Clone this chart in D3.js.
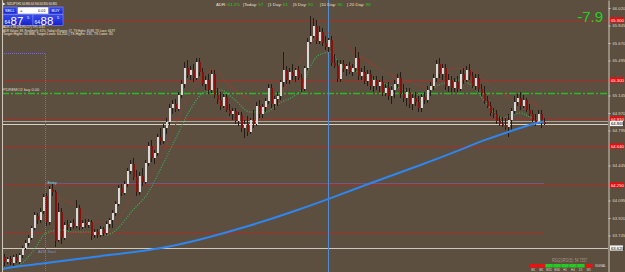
<!DOCTYPE html>
<html>
<head>
<meta charset="utf-8">
<script src="https://cdn.jsdelivr.net/npm/d3@7"></script>
<style>
  html, body { margin: 0; padding: 0; background: #5c4f3f; overflow: hidden; }
  text { font-family: "Liberation Sans", Arial, sans-serif; }
</style>
</head>
<body>
<div id="chart"></div>
<script>
// NZDJPY H1 candles, oldest first
const opens = [
  63.53,63.48,63.51,63.47,63.53,63.48,63.55,63.62,63.67,63.72,
  63.82,63.94,63.90,63.99,64.14,63.88,64.21,64.18,63.70,63.98,
  63.72,63.85,63.83,63.87,63.84,64.02,63.83,63.87,63.85,63.88,
  63.75,63.78,63.75,63.81,63.77,63.86,63.90,63.97,64.06,64.22,
  64.17,64.26,64.39,64.46,64.33,64.18,64.34,64.28,64.47,64.64,
  64.52,64.57,64.73,64.69,64.82,64.88,65.02,65.06,65.01,65.15,
  65.26,65.42,65.35,65.40,65.32,65.48,65.38,65.26,65.30,65.20,
  65.36,65.15,65.10,65.04,65.13,65.00,64.96,64.99,64.89,64.95,
  64.82,64.86,64.78,64.90,64.86,65.04,64.96,65.03,65.09,65.22,
  65.06,65.11,65.14,65.28,65.40,65.30,65.38,65.34,65.40,65.32,
  65.21,65.42,65.68,65.74,65.84,65.69,65.78,65.67,65.63,65.70,
  65.47,65.44,65.31,65.46,65.41,65.44,65.38,65.42,65.52,65.34,
  65.38,65.29,65.36,65.24,65.30,65.24,65.28,65.17,65.22,65.14,
  65.20,65.26,65.32,65.16,65.12,65.18,65.06,65.12,65.08,65.02,
  65.13,65.10,65.20,65.24,65.32,65.46,65.36,65.42,65.24,65.30,
  65.22,65.28,65.21,65.36,65.30,65.40,65.34,65.24,65.32,65.21,
  65.17,65.09,65.04,64.97,64.96,64.89,64.86,64.85,64.83,64.90,
  64.99,65.08,65.12,65.04,65.10,65.00,64.96,64.90,64.87,64.96,
  64.88
];
const highs = [
  63.56,63.53,63.54,63.55,63.56,63.57,63.64,63.70,63.75,63.84,
  63.98,63.97,64.02,64.16,64.17,64.24,64.26,64.20,64.07,64.02,
  63.88,63.90,63.89,63.91,64.10,64.05,63.90,63.91,63.91,63.90,
  63.81,63.81,63.84,63.83,63.89,63.92,64.00,64.09,64.25,64.26,
  64.29,64.42,64.50,64.52,64.40,64.38,64.42,64.50,64.68,64.70,
  64.60,64.76,64.82,64.86,64.92,65.06,65.10,65.11,65.18,65.30,
  65.48,65.50,65.44,65.46,65.52,65.52,65.42,65.34,65.36,65.40,
  65.40,65.22,65.18,65.16,65.16,65.06,65.02,65.02,64.98,64.98,
  64.90,64.94,64.92,65.00,65.08,65.10,65.06,65.12,65.26,65.26,
  65.14,65.18,65.30,65.58,65.44,65.42,65.46,65.42,65.44,65.36,
  65.44,65.72,65.94,65.92,65.90,65.84,65.82,65.74,65.72,65.74,
  65.56,65.50,65.50,65.50,65.46,65.48,65.46,65.63,65.58,65.42,
  65.44,65.40,65.40,65.34,65.34,65.30,65.34,65.26,65.28,65.24,
  65.30,65.36,65.38,65.26,65.22,65.22,65.16,65.18,65.14,65.16,
  65.18,65.24,65.28,65.36,65.50,65.52,65.46,65.46,65.36,65.34,
  65.32,65.34,65.40,65.42,65.44,65.46,65.38,65.36,65.36,65.26,
  65.24,65.14,65.08,65.02,65.00,64.94,64.93,64.92,64.96,65.02,
  65.14,65.16,65.18,65.15,65.12,65.06,65.00,64.96,65.00,65.00,
  64.92
];
const lows = [
  63.44,63.46,63.45,63.44,63.47,63.46,63.52,63.60,63.64,63.70,
  63.80,63.86,63.87,63.96,63.84,63.85,64.14,63.63,63.68,63.66,
  63.70,63.80,63.79,63.81,63.82,63.80,63.81,63.82,63.82,63.70,
  63.72,63.72,63.73,63.74,63.75,63.82,63.82,63.94,64.04,64.14,
  64.15,64.23,64.36,64.30,64.14,64.15,64.24,64.26,64.44,64.48,
  64.46,64.54,64.65,64.66,64.76,64.85,64.96,64.98,64.99,65.12,
  65.22,65.32,65.30,65.28,65.30,65.34,65.24,65.20,65.16,65.17,
  65.12,65.06,65.00,65.02,64.98,64.94,64.90,64.86,64.84,64.78,
  64.72,64.74,64.76,64.82,64.84,64.92,64.92,64.98,65.06,65.02,
  65.00,65.04,65.10,65.23,65.26,65.26,65.30,65.28,65.30,65.18,
  65.19,65.40,65.66,65.72,65.66,65.66,65.64,65.60,65.58,65.44,
  65.42,65.28,65.28,65.38,65.34,65.36,65.34,65.38,65.30,65.30,
  65.26,65.24,65.20,65.18,65.20,65.18,65.14,65.14,65.10,65.06,
  65.12,65.22,65.12,65.08,65.04,65.02,65.00,65.04,64.98,64.98,
  65.06,65.07,65.14,65.20,65.28,65.32,65.30,65.20,65.18,65.18,
  65.18,65.18,65.19,65.26,65.28,65.30,65.22,65.20,65.18,65.14,
  65.06,65.02,64.94,64.92,64.86,64.84,64.83,64.80,64.73,64.80,
  64.96,65.04,65.00,65.02,64.98,64.94,64.88,64.84,64.86,64.82,
  64.85
];
const closes = [
  63.48,63.51,63.48,63.53,63.49,63.55,63.62,63.67,63.72,63.82,
  63.95,63.90,63.98,64.13,63.88,64.21,64.18,63.69,63.98,63.72,
  63.85,63.83,63.87,63.84,64.02,63.83,63.87,63.85,63.88,63.74,
  63.78,63.75,63.81,63.77,63.86,63.90,63.97,64.06,64.22,64.17,
  64.26,64.39,64.46,64.33,64.18,64.34,64.28,64.47,64.64,64.52,
  64.57,64.73,64.69,64.82,64.88,65.02,65.06,65.01,65.15,65.26,
  65.42,65.35,65.40,65.32,65.48,65.38,65.26,65.30,65.20,65.36,
  65.15,65.10,65.04,65.13,65.00,64.96,64.99,64.89,64.95,64.82,
  64.86,64.78,64.90,64.86,65.04,64.96,65.03,65.09,65.22,65.06,
  65.11,65.14,65.28,65.40,65.30,65.38,65.34,65.40,65.32,65.21,
  65.42,65.68,65.74,65.84,65.69,65.78,65.67,65.63,65.70,65.47,
  65.44,65.31,65.46,65.41,65.44,65.38,65.42,65.52,65.34,65.38,
  65.29,65.36,65.24,65.30,65.24,65.28,65.17,65.22,65.14,65.20,
  65.26,65.32,65.16,65.12,65.18,65.06,65.12,65.08,65.02,65.13,
  65.10,65.20,65.24,65.32,65.46,65.36,65.42,65.24,65.30,65.22,
  65.28,65.21,65.36,65.30,65.40,65.34,65.24,65.32,65.21,65.17,
  65.09,65.04,64.97,64.96,64.89,64.86,64.85,64.83,64.90,64.99,
  65.08,65.12,65.04,65.10,65.00,64.96,64.90,64.87,64.96,64.88,
  64.865
];

// indicator lines as [bar index, price]
const slowMA = [[-1.3,63.40],[0,63.42],[12,63.46],[32,63.54],[52,63.61],[65,63.70],[82,63.84],[99,64.01],
  [109,64.12],[125,64.30],[139,64.45],[152,64.60],[160,64.70],[169,64.79],[176,64.86],[180,64.885]];
const fastMA = [[0,63.42],[5,63.45],[10,63.60],[14,63.77],[19,63.80],[23,63.78],[30,63.78],[34,63.75],
  [36,63.77],[43,64.00],[48,64.17],[52,64.40],[57,64.70],[62,65.00],[67,65.18],[72,65.20],[77,65.10],
  [82,64.98],[87,64.98],[92,65.07],[99,65.20],[102,65.43],[105,65.55],[109,65.58],[112,65.45],
  [119,65.37],[125,65.28],[132,65.22],[139,65.15],[145,65.25],[152,65.30],[156,65.24],[162,65.02],
  [166,64.92],[172,64.97],[176,64.92],[180,64.89]];
const trailLine = [[15,64.20],[20,64.10],[25,64.02],[30,63.88],[37,63.88],[42,64.10],[49,64.35],
  [55,64.70],[60,65.05],[65,65.30],[70,65.40],[75,65.25],[82,65.10],[89,65.02],[95,65.30],
  [100,65.55],[105,65.75],[109,65.77],[115,65.62],[122,65.47],[129,65.35],[135,65.28],[142,65.22],
  [147,65.38],[152,65.42],[157,65.38],[162,65.25],[169,65.13],[174,65.10],[179,65.02]];

const redLevels = [65.90, 65.30, 64.91, 64.64, 64.25];
const pdLevel = 65.17;
const lowTrend = 63.77;
const adrStartLevel = 63.62;
const bidPrice = 64.865;
const askPrice = 64.885;
const entryLevel = 64.27;
const zoneTop = 65.57;
const zoneBar = 13.7;
const markerBar = 108;
const priceTicks = [66.020, 65.845, 65.670, 65.495, 65.320, 65.145, 64.970, 64.795,
  64.620, 64.445, 64.270, 64.095, 63.920, 63.745, 63.570];

const adrItems = [['ADR: ', '61.2%'], ['|Today: ', '57'], ['|1 Day: ', '61'],
  ['|5 Day: ', '90'], ['|10 Day: ', '90'], ['| 20 Day: ', '96']];
const mtfFrames = ['M1', 'M5', 'M15', 'M30', 'H1', 'H4', 'D1', 'W1'];
const mtfSignals = [-1, -1, 1, 1, 1, 1, 1, -1];

const W = 625, H = 272, plotRight = 608;
const bg = '#5c4f3f';

const svg = d3.select('#chart').append('svg')
  .attr('width', W).attr('height', H);
svg.append('rect').attr('width', W).attr('height', H).attr('fill', bg);

const x = d3.scaleLinear().domain([0, opens.length - 1]).range([4, 544]);
const y = d3.scaleLinear().domain([63.38, 66.10]).range([H, 0]);

svg.append('clipPath').attr('id', 'plot')
  .append('rect').attr('x', 2).attr('y', 0).attr('width', plotRight - 2).attr('height', H);
const plot = svg.append('g').attr('clip-path', 'url(#plot)');

const hline = (p, x0, x1, color, extra) => {
  const l = plot.append('line')
    .attr('x1', x0).attr('x2', x1)
    .attr('y1', Math.round(y(p)) + 0.5).attr('y2', Math.round(y(p)) + 0.5)
    .attr('stroke', color).attr('stroke-width', 1);
  if (extra) extra(l);
  return l;
};

// levels
const levelRed = '#a5302a';
redLevels.forEach(p => hline(p, 2, plotRight, levelRed));
hline(lowTrend, 2, x(opens.length - 1), levelRed);
hline(adrStartLevel, 2, plotRight, '#cfc8bc');
hline(askPrice, 2, plotRight, '#a9a39a');
hline(bidPrice, 2, plotRight, '#d6d0c6');
hline(pdLevel, 2, plotRight, '#28b828', l => l.attr('stroke-width', 1.3).attr('stroke-dasharray', '7,2,2,2'));

// entry zone (dotted)
const zoneX = Math.round(x(zoneBar)) + 0.5;
plot.append('path')
  .attr('d', `M2,${Math.round(y(zoneTop)) + 0.5}H${zoneX}V${H}`)
  .attr('fill', 'none').attr('stroke', '#7a68c8').attr('stroke-dasharray', '1,1');
hline(entryLevel, zoneX, x(opens.length - 1), '#7a68c8', l => l.attr('stroke-dasharray', '1,1'));

// time marker
plot.append('line')
  .attr('x1', Math.round(x(markerBar)) + 0.5).attr('x2', Math.round(x(markerBar)) + 0.5)
  .attr('y1', 0).attr('y2', H).attr('stroke', '#4f8cd0').attr('stroke-width', 1);

const lineGen = d3.line().x(d => x(d[0])).y(d => y(d[1])).curve(d3.curveMonotoneX);
const smoothGen = d3.line().x(d => x(d[0])).y(d => y(d[1])).curve(d3.curveBasis);

plot.append('path').datum(trailLine).attr('d', lineGen)
  .attr('fill', 'none').attr('stroke', '#b8352c').attr('stroke-width', 1).attr('stroke-dasharray', '1,1.5');
plot.append('path').datum(fastMA).attr('d', lineGen)
  .attr('fill', 'none').attr('stroke', '#3fae58').attr('stroke-width', 1.2).attr('stroke-dasharray', '1,1.5');

// candles
const bars = d3.range(opens.length).map(i => ({ i, o: opens[i], h: highs[i], l: lows[i], c: closes[i] }));
const cg = plot.append('g').attr('shape-rendering', 'crispEdges');
cg.selectAll('line.wick').data(bars).enter().append('line')
  .attr('x1', d => Math.round(x(d.i)) + 0.5).attr('x2', d => Math.round(x(d.i)) + 0.5)
  .attr('y1', d => y(d.h)).attr('y2', d => y(d.l))
  .attr('stroke', '#241c16').attr('stroke-width', 1);
cg.selectAll('rect.body').data(bars).enter().append('rect')
  .attr('x', d => Math.round(x(d.i)))
  .attr('width', 2)
  .attr('y', d => y(Math.max(d.o, d.c)))
  .attr('height', d => Math.max(1, Math.abs(y(d.o) - y(d.c))))
  .attr('fill', d => d.c >= d.o ? '#d9d9d9' : '#8a1010');

plot.append('path').datum(slowMA).attr('d', smoothGen)
  .attr('fill', 'none').attr('stroke', '#2f86f0').attr('stroke-width', 2);

// right price axis; tick labels hidden where a level tag sits
const tagPrices = redLevels.concat([bidPrice, adrStartLevel]);
const shownTicks = priceTicks.filter(t => tagPrices.every(p => Math.abs(y(p) - y(t)) > 5.5));
const axis = svg.append('g').attr('transform', `translate(${plotRight + 0.5},0)`)
  .call(d3.axisRight(y).tickValues(shownTicks).tickSize(2).tickSizeOuter(0).tickPadding(2)
    .tickFormat(d3.format('.3f')));
axis.select('.domain').attr('stroke', '#cfc8bc');
axis.selectAll('.tick line').attr('stroke', '#cfc8bc');
axis.selectAll('.tick text').attr('fill', '#ddd6cc').attr('font-size', 4.2)
  .attr('font-family', '"Liberation Sans", Arial, sans-serif');

const priceTag = (p, fill, color) => {
  const g = svg.append('g').attr('transform', `translate(${plotRight + 2},${y(p)})`);
  g.append('rect').attr('x', 0).attr('y', -2.6).attr('width', 13).attr('height', 5.2).attr('fill', fill);
  g.append('text').attr('x', 1).attr('y', 1.6).attr('font-size', 4.2).attr('fill', color)
    .text(d3.format('.3f')(p));
};
redLevels.forEach(p => priceTag(p, '#ee0a0a', '#ffffff'));
priceTag(bidPrice, '#f2f2f2', '#000000');
priceTag(adrStartLevel, '#f2f2f2', '#000000');

// labels on chart
svg.append('text').attr('x', 3).attr('y', y(pdLevel) - 2).attr('font-size', 4)
  .attr('fill', '#e0dad0').text('PDREMO2 buy 0.00');
svg.append('text').attr('x', zoneX + 2).attr('y', y(entryLevel) + 1).attr('font-size', 4)
  .attr('fill', '#70e0e0').text('Entry');
svg.append('text').attr('x', 38).attr('y', y(adrStartLevel) + 5).attr('font-size', 4)
  .attr('fill', '#7f92c4').text('ADR Start');

// top header
svg.append('path').attr('d', 'M3,2.5L5.5,4L3,5.5Z').attr('fill', '#e8e8e8');
svg.append('text').attr('x', 7).attr('y', 5.3).attr('font-size', 4).attr('fill', '#f0f0f0')
  .attr('textLength', 50).attr('lengthAdjust', 'spacingAndGlyphs')
  .text('NZDJPY,H1 64.880 64.900 64.850 64.865');

const adrX = [216, 243, 268, 293, 320, 347];
const adr = svg.append('text').attr('y', 6.2).attr('font-size', 4.4);
adrItems.forEach((it, k) => {
  adr.append('tspan').attr('x', adrX[k]).attr('fill', '#e6e0d6').text(it[0]);
  adr.append('tspan').attr('fill', '#22cc22').text(it[1]);
});

svg.append('text').attr('x', 603).attr('y', 21.5).attr('text-anchor', 'end')
  .attr('font-size', 15).attr('fill', '#22d022').text('-7.9');

// trade panel
const panel = svg.append('g');
const blueGrad = svg.append('defs').append('linearGradient').attr('id', 'bl')
  .attr('x1', 0).attr('x2', 0).attr('y1', 0).attr('y2', 1);
blueGrad.append('stop').attr('offset', 0).attr('stop-color', '#3a4cf0');
blueGrad.append('stop').attr('offset', 1).attr('stop-color', '#1422c8');
panel.append('rect').attr('x', 3).attr('y', 7).attr('width', 14).attr('height', 7)
  .attr('fill', 'url(#bl)').attr('stroke', '#8e9aff').attr('stroke-width', 0.5);
panel.append('text').attr('x', 5).attr('y', 12).attr('font-size', 4).attr('fill', '#fff').text('SELL');
panel.append('rect').attr('x', 17.5).attr('y', 7).attr('width', 31).attr('height', 7)
  .attr('fill', '#ffffff').attr('stroke', '#3a4cf0').attr('stroke-width', 0.5);
panel.append('text').attr('x', 20).attr('y', 12).attr('font-size', 4).attr('fill', '#111').text('=');
panel.append('text').attr('x', 38).attr('y', 12).attr('font-size', 4).attr('fill', '#111').text('0.01');
panel.append('rect').attr('x', 49).attr('y', 7).attr('width', 14).attr('height', 7)
  .attr('fill', 'url(#bl)').attr('stroke', '#8e9aff').attr('stroke-width', 0.5);
panel.append('text').attr('x', 51.5).attr('y', 12).attr('font-size', 4).attr('fill', '#fff').text('BUY');

[[3, '64', '87', '5'], [33, '64', '88', '5']].forEach(([bx, a, b, c]) => {
  panel.append('rect').attr('x', bx).attr('y', 14.5).attr('width', 30).attr('height', 11)
    .attr('fill', 'url(#bl)').attr('stroke', '#8e9aff').attr('stroke-width', 0.5);
  panel.append('text').attr('x', bx + 1.5).attr('y', 24).attr('font-size', 5).attr('fill', '#fff').text(a);
  panel.append('text').attr('x', bx + 7.5).attr('y', 24.5).attr('font-size', 11.5).attr('fill', '#fff').text(b);
  panel.append('text').attr('x', bx + 24).attr('y', 18.5).attr('font-size', 4).attr('fill', '#fff').text(c);
});

const infoLines = [
  ['ADR 1.36 (RDR0.57) YPL 0.81', 42],
  ["ADR Values: 88, Realtime%: 61%, Today's Ranges: 57, TS Highs: 65.88, TS Lows: 64.97", 112],
  ['Target Highs: 65.888, Target Lows: 64.205 | TS Highs: 131, TS Lows: 65', 110]
];
infoLines.forEach(([t, len], k) => {
  svg.append('text').attr('x', 3).attr('y', 28 + k * 3.6).attr('font-size', 3.3)
    .attr('fill', '#ece6dc').attr('textLength', len).attr('lengthAdjust', 'spacingAndGlyphs').text(t);
});

// bottom-right indicators
svg.append('text').attr('x', 552).attr('y', 262).attr('font-size', 5)
  .attr('fill', '#a39886').attr('textLength', 35).attr('lengthAdjust', 'spacingAndGlyphs')
  .text('RSI(2)/RSI(5): 54.7357');
const mtf = svg.append('g');
const mx = d3.scaleBand().domain(mtfFrames).range([529, 593]).padding(0.06);
mtf.selectAll('rect').data(mtfFrames).enter().append('rect')
  .attr('x', d => mx(d)).attr('y', 264).attr('width', mx.bandwidth()).attr('height', 3.5)
  .attr('fill', (d, k) => mtfSignals[k] > 0 ? '#22cc22' : '#ee1111');
mtf.selectAll('text').data(mtfFrames).enter().append('text')
  .attr('x', d => mx(d) + mx.bandwidth() / 2).attr('y', 271).attr('text-anchor', 'middle')
  .attr('font-size', 2.8).attr('fill', '#e0dad0').text(d => d);
svg.append('text').attr('x', 595).attr('y', 267).attr('font-size', 3)
  .attr('fill', '#e0dad0').text('SIGNAL');

// frame
svg.append('line').attr('x1', 2.5).attr('x2', 2.5).attr('y1', 0).attr('y2', H)
  .attr('stroke', '#cfc8bc').attr('stroke-width', 1);
</script>
</body>
</html>
